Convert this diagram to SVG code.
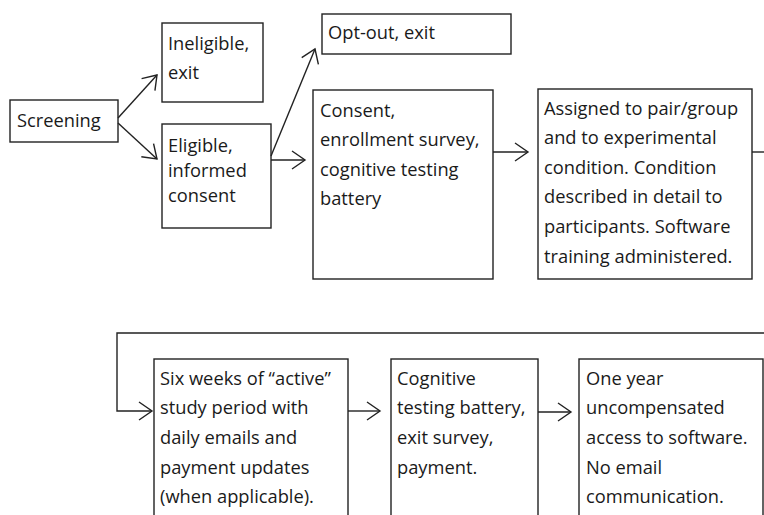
<svg xmlns="http://www.w3.org/2000/svg" width="764" height="515" viewBox="0 0 764 515">
<style>
.box{fill:#fff;stroke:#222;stroke-width:1.4}
.t{font-family:"Open Sans","Noto Sans",sans-serif;font-size:18.3px;fill:#1a1a1a}
.c{fill:none;stroke:#222;stroke-width:1.4}
</style>
<defs>
<marker id="ah" markerUnits="userSpaceOnUse" markerWidth="30" markerHeight="30" viewBox="-15 -15 30 30" refX="0" refY="0" orient="auto">
<path d="M-13,-9 L0,0 L-13,9" fill="none" stroke="#222" stroke-width="1.4"/>
</marker>
</defs>
<rect width="764" height="515" fill="#fff"/>
<g id="screening"><rect class="box" x="10" y="100" width="108" height="42"/><text class="t" x="17" y="127">Screening</text></g>
<g id="ineligible"><rect class="box" x="162" y="23" width="101" height="79"/><text class="t" x="168" y="50">Ineligible,</text><text class="t" x="168" y="79">exit</text></g>
<g id="eligible"><rect class="box" x="162" y="124" width="109" height="104"/><text class="t" x="168" y="152">Eligible,</text><text class="t" x="168" y="177">informed</text><text class="t" x="168" y="202">consent</text></g>
<g id="optout"><rect class="box" x="322" y="14" width="189" height="40"/><text class="t" x="328" y="39">Opt-out, exit</text></g>
<g id="consent"><rect class="box" x="313" y="90" width="180" height="189"/><text class="t" x="320" y="117">Consent,</text><text class="t" x="320" y="146">enrollment survey,</text><text class="t" x="320" y="176">cognitive testing</text><text class="t" x="320" y="205">battery</text></g>
<g id="assigned"><rect class="box" x="538" y="89" width="214" height="190"/><text class="t" x="544" y="115">Assigned to pair/group</text><text class="t" x="544" y="144">and to experimental</text><text class="t" x="544" y="174">condition. Condition</text><text class="t" x="544" y="203">described in detail to</text><text class="t" x="544" y="233">participants. Software</text><text class="t" x="544" y="263">training administered.</text></g>
<g id="sixweeks"><rect class="box" x="154" y="359" width="194" height="170"/><text class="t" x="160" y="385">Six weeks of “active”</text><text class="t" x="160" y="414">study period with</text><text class="t" x="160" y="444">daily emails and</text><text class="t" x="160" y="474">payment updates</text><text class="t" x="160" y="503">(when applicable).</text></g>
<g id="cognitive"><rect class="box" x="391" y="359" width="147" height="170"/><text class="t" x="397" y="385">Cognitive</text><text class="t" x="397" y="414">testing battery,</text><text class="t" x="397" y="444">exit survey,</text><text class="t" x="397" y="474">payment.</text></g>
<g id="oneyear"><rect class="box" x="579" y="359" width="184" height="170"/><text class="t" x="586" y="385">One year</text><text class="t" x="586" y="414">uncompensated</text><text class="t" x="586" y="444">access to software.</text><text class="t" x="586" y="474">No email</text><text class="t" x="586" y="503">communication.</text></g>
<g id="connectors">
<line class="c" x1="118" y1="118" x2="157" y2="75" marker-end="url(#ah)"/>
<line class="c" x1="118" y1="123" x2="157" y2="159" marker-end="url(#ah)"/>
<line class="c" x1="271" y1="156" x2="315" y2="49" marker-end="url(#ah)"/>
<line class="c" x1="271" y1="160" x2="305" y2="160" marker-end="url(#ah)"/>
<line class="c" x1="493" y1="152" x2="528" y2="152" marker-end="url(#ah)"/>
<line class="c" x1="752" y1="152" x2="766" y2="152"/>
<polyline class="c" points="766,333 117,333 117,411 152,411" marker-end="url(#ah)"/>
<line class="c" x1="348" y1="411" x2="380" y2="411" marker-end="url(#ah)"/>
<line class="c" x1="538" y1="412" x2="571" y2="412" marker-end="url(#ah)"/>
</g>
</svg>
